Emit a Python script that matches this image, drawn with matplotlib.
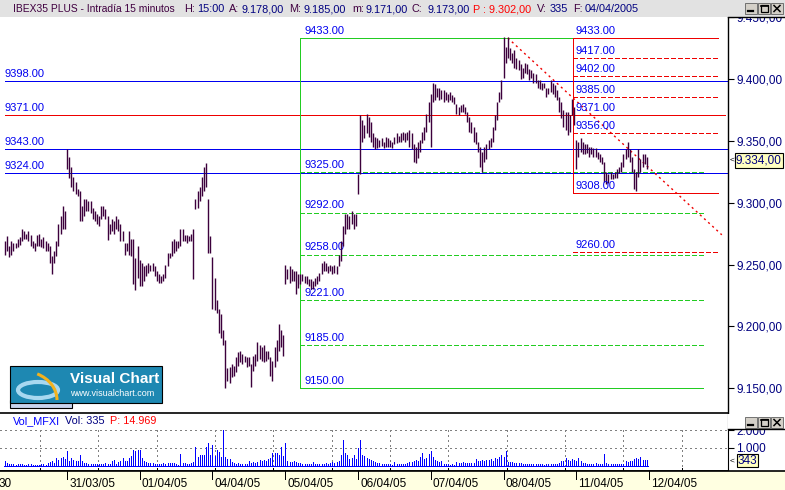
import matplotlib
matplotlib.use('Agg')
import matplotlib.pyplot as plt
import matplotlib.patches as mpatches
from matplotlib.lines import Line2D
from matplotlib.ticker import FuncFormatter
import numpy as np

plt.rcParams['font.family'] = ['Liberation Sans', 'DejaVu Sans']
plt.rcParams['lines.scale_dashes'] = False

W, H = 785, 490

# 15 minute bars, high / low per day (34 bars a day, first day partial)
d30_h = [9269, 9273, 9265, 9269, 9267, 9267, 9271, 9272, 9279, 9277, 9275, 9277, 9274, 9269, 9267,
         9274, 9275, 9271, 9272, 9269, 9267, 9265, 9257, 9261, 9269, 9283, 9289, 9297, 9293]
d30_l = [9258, 9261, 9256, 9258, 9261, 9263, 9264, 9266, 9269, 9271, 9271, 9269, 9265, 9263, 9261,
         9265, 9265, 9264, 9263, 9261, 9261, 9251, 9242, 9251, 9257, 9265, 9275, 9279, 9279]
d31_h = [9343, 9337, 9329, 9321, 9317, 9311, 9309, 9297, 9303, 9303, 9301, 9301, 9296, 9293, 9291, 9289, 9297,
         9297, 9295, 9289, 9283, 9287, 9285, 9289, 9287, 9283, 9277, 9267, 9267, 9277, 9271, 9271, 9255, 9265]
d31_l = [9327, 9320, 9313, 9309, 9307, 9305, 9285, 9285, 9289, 9293, 9293, 9292, 9287, 9285, 9283, 9281, 9287,
         9289, 9287, 9270, 9275, 9277, 9275, 9279, 9277, 9269, 9269, 9258, 9261, 9258, 9257, 9234, 9229, 9239]
d01_h = [9254, 9251, 9249, 9250, 9251, 9250, 9251, 9249, 9245, 9242, 9241, 9242, 9250, 9259, 9259, 9269, 9271,
         9269, 9269, 9279, 9279, 9274, 9274, 9273, 9275, 9279, 9303, 9309, 9313, 9321, 9329, 9332, 9303, 9273]
d01_l = [9233, 9233, 9237, 9241, 9243, 9245, 9245, 9241, 9237, 9235, 9235, 9237, 9239, 9249, 9255, 9257, 9259,
         9261, 9263, 9265, 9269, 9269, 9267, 9269, 9269, 9238, 9295, 9296, 9301, 9305, 9309, 9313, 9259, 9259]
d04_h = [9256, 9239, 9221, 9214, 9210, 9197, 9189, 9166, 9167, 9170, 9168, 9175, 9179, 9180, 9178, 9176, 9175,
         9175, 9170, 9176, 9178, 9187, 9185, 9183, 9185, 9180, 9180, 9175, 9172, 9183, 9189, 9202, 9197, 9193]
d04_l = [9214, 9213, 9211, 9195, 9191, 9185, 9150, 9156, 9154, 9159, 9160, 9163, 9168, 9171, 9170, 9171, 9167,
         9168, 9151, 9164, 9168, 9172, 9174, 9172, 9171, 9172, 9174, 9160, 9156, 9167, 9172, 9180, 9183, 9176]
d05_h = [9250, 9246, 9249, 9246, 9245, 9245, 9242, 9242, 9242, 9241, 9241, 9238, 9238, 9237, 9239, 9241, 9243,
         9251, 9253, 9251, 9249, 9250, 9249, 9250, 9249, 9258, 9269, 9281, 9291, 9291, 9289, 9293, 9291, 9291]
d05_l = [9234, 9238, 9235, 9237, 9237, 9226, 9231, 9234, 9237, 9235, 9234, 9233, 9230, 9230, 9233, 9234, 9237,
         9242, 9245, 9245, 9243, 9245, 9242, 9243, 9242, 9249, 9253, 9265, 9275, 9279, 9279, 9283, 9279, 9281]
d06_h = [9323, 9371, 9367, 9363, 9372, 9369, 9365, 9356, 9353, 9352, 9351, 9352, 9349, 9353, 9352, 9351, 9349,
         9353, 9356, 9354, 9356, 9357, 9356, 9357, 9359, 9356, 9347, 9345, 9349, 9351, 9357, 9361, 9372, 9381]
d06_l = [9307, 9323, 9349, 9352, 9356, 9353, 9349, 9345, 9343, 9344, 9345, 9346, 9344, 9345, 9345, 9345, 9344,
         9347, 9348, 9349, 9349, 9351, 9349, 9351, 9345, 9343, 9333, 9332, 9336, 9341, 9348, 9351, 9357, 9365]
d07_h = [9388, 9397, 9396, 9393, 9393, 9391, 9391, 9389, 9388, 9389, 9387, 9385, 9380, 9377, 9379, 9380, 9377,
         9373, 9369, 9365, 9361, 9357, 9349, 9345, 9341, 9345, 9347, 9351, 9352, 9361, 9371, 9381, 9389, 9399]
d07_l = [9345, 9381, 9383, 9385, 9383, 9384, 9381, 9383, 9381, 9383, 9381, 9380, 9372, 9371, 9373, 9373, 9372,
         9365, 9357, 9356, 9349, 9347, 9341, 9329, 9325, 9333, 9335, 9343, 9345, 9349, 9359, 9367, 9381, 9384]
d08_h = [9434, 9426, 9434, 9425, 9421, 9423, 9417, 9415, 9412, 9409, 9413, 9412, 9408, 9407, 9405, 9404, 9399,
         9399, 9397, 9397, 9393, 9393, 9399, 9397, 9395, 9391, 9385, 9381, 9375, 9373, 9373, 9371, 9384, 9377]
d08_l = [9401, 9413, 9417, 9415, 9413, 9409, 9408, 9407, 9400, 9401, 9405, 9404, 9399, 9401, 9397, 9397, 9393,
         9392, 9391, 9393, 9385, 9388, 9389, 9388, 9385, 9383, 9373, 9368, 9361, 9359, 9355, 9357, 9371, 9363]
d11_h = [9351, 9349, 9352, 9349, 9347, 9347, 9345, 9345, 9344, 9344, 9341, 9339, 9337, 9333, 9325, 9323, 9325,
         9323, 9325, 9327, 9329, 9333, 9339, 9343, 9349, 9343, 9337, 9327, 9325, 9343, 9335, 9339, 9339, 9337]
d11_l = [9327, 9337, 9341, 9339, 9339, 9340, 9337, 9339, 9337, 9337, 9335, 9333, 9331, 9317, 9315, 9316, 9319,
         9319, 9320, 9320, 9324, 9325, 9329, 9335, 9337, 9333, 9325, 9311, 9309, 9321, 9325, 9329, 9331, 9327]

# volume per bar
v30 = [300, 150, 120, 100, 120, 80, 90, 120, 100, 80, 70, 90, 110, 80, 60, 60, 80, 110, 90, 70,
       180, 220, 300, 180, 420, 350, 460, 520, 380]
v31 = [840, 300, 420, 320, 250, 280, 590, 250, 180, 140, 120, 110, 100, 90, 110, 100, 130, 110, 140, 100,
       130, 260, 340, 120, 200, 300, 450, 300, 250, 420, 550, 880, 840, 880]
v01 = [880, 420, 250, 200, 170, 150, 140, 120, 100, 130, 100, 150, 120, 160, 180, 160, 150, 100, 80, 650,
       150, 140, 120, 110, 140, 200, 1080, 500, 600, 620, 600, 1050, 1270, 600]
v04 = [1180, 530, 880, 800, 500, 2020, 500, 400, 380, 200, 160, 130, 180, 130, 100, 90, 110, 300, 160, 200,
       180, 220, 340, 260, 335, 280, 400, 450, 720, 720, 700, 600, 1080, 560]
v05 = [1270, 300, 230, 200, 280, 220, 150, 180, 120, 110, 90, 100, 110, 200, 100, 90, 120, 100, 130, 160,
       110, 140, 200, 160, 230, 260, 590, 1470, 700, 600, 380, 450, 600, 380]
v06 = [980, 1470, 600, 550, 450, 400, 350, 250, 200, 180, 150, 120, 130, 100, 120, 90, 80, 200, 100, 90,
       100, 110, 90, 150, 200, 220, 300, 350, 300, 500, 700, 400, 450, 650]
v07 = [820, 500, 350, 300, 200, 250, 120, 100, 100, 80, 90, 80, 200, 150, 160, 240, 160, 150, 140, 180,
       150, 400, 280, 300, 350, 300, 320, 310, 380, 300, 450, 400, 480, 600]
v08 = [500, 850, 240, 240, 200, 160, 180, 170, 150, 130, 120, 110, 100, 120, 100, 90, 100, 120, 100, 80,
       90, 100, 90, 110, 120, 130, 150, 300, 250, 450, 350, 300, 380, 320]
v11 = [300, 450, 280, 150, 140, 120, 110, 130, 120, 140, 130, 110, 120, 650, 150, 100, 110, 90, 100, 120,
       100, 90, 110, 250, 200, 300, 280, 400, 450, 380, 480, 350, 360, 343]

day_labels = ['31/03/05', '01/04/05', '04/04/05', '05/04/05', '06/04/05',
              '07/04/05', '08/04/05', '11/04/05', '12/04/05']

# support / resistance lines
blue_levels = [9398, 9343, 9324]
red_level = 9371
# fibonacci (green) 9150 -> 9433 and (red) 9433 -> 9308
green_fib = [9433, 9325, 9292, 9258, 9221, 9185, 9150]
green_span = [138, 326]
red_fib = [9433, 9417, 9402, 9385, 9371, 9356, 9308, 9260]
red_solid = [9433, 9371, 9308]
red_span = [265.5, 333]
trend_idx = [235, 335]
trend_price = [9433, 9274]

last_price = 9334
last_vol = 343

high = np.array(d30_h + d31_h + d01_h + d04_h + d05_h + d06_h + d07_h + d08_h + d11_h)
low = np.array(d30_l + d31_l + d01_l + d04_l + d05_l + d06_l + d07_l + d08_l + d11_l)
vol = np.array(v30 + v31 + v01 + v04 + v05 + v06 + v07 + v08 + v11)
idx = np.arange(len(high))
day_start = [len(d30_h) + 34 * k for k in range(len(day_labels))]

X0, DX = 4.9, 2.14          # pixel of first bar, pixels per bar
def px2i(px):
    return (px - X0) / DX

def rect(x0, y0, x1, y1):
    return [x0 / W, 1 - y1 / H, (x1 - x0) / W, (y1 - y0) / H]

def spanish(v, _=None, dec=2):
    s = f"{v:,.{dec}f}"
    return s.replace(',', 'X').replace('.', ',').replace('X', '.')

BAR = '#3C003C'
BLUE = '#0000F0'
GREEN = '#22CC22'
RED = '#EE0000'
NAVY = '#000080'
LAB = '#0000F0'
AA = False
LW = 0.72   # one pixel

fig = plt.figure(figsize=(W / 100, H / 100), dpi=100)
fig.patch.set_facecolor('white')

# ---- price panel
ax = fig.add_axes(rect(0, 17, 728, 413))
ax.set_xlim(px2i(0), px2i(728))
ax.set_ylim(9130, 9448)
for s in ['top', 'left']:
    ax.spines[s].set_visible(False)
ax.spines['right'].set_linewidth(1)
ax.spines['bottom'].set_linewidth(1.2)
ax.set_xticks([])
ax.yaxis.tick_right()
ax.set_yticks(np.arange(9150, 9451, 50))
ax.yaxis.set_major_formatter(FuncFormatter(spanish))
ax.tick_params(axis='y', direction='out', length=4, width=0.8, pad=2,
               labelsize=8.5, labelcolor=NAVY)

xr = ax.get_xlim()[1]
for lv in blue_levels:
    ax.hlines(lv, 0, xr, color=BLUE, lw=LW, zorder=2, antialiased=AA)
ax.hlines(red_level, 0, px2i(725), color=RED, lw=LW, zorder=2, antialiased=AA)
for lv in [9398, 9371, 9343, 9324]:
    ax.annotate(f"{lv:.2f}", (0, lv), xytext=(0, 3), textcoords='offset points',
                color=LAB, fontsize=8, va='baseline')

# green fibonacci
g0, g1 = green_span
ax.vlines(g0, green_fib[-1], green_fib[0], color=GREEN, lw=LW, zorder=2, antialiased=AA)
for lv in green_fib:
    solid = lv in (green_fib[0], green_fib[-1])
    ax.hlines(lv, g0, g1, color=GREEN, lw=LW,
              linestyle='-' if solid else (0, (3, 2)), zorder=2, antialiased=AA)
    ax.annotate(f"{lv:.2f}", (g0, lv), xytext=(3, 3), textcoords='offset points',
                color=LAB, fontsize=8, va='baseline')

# red fibonacci
r0, r1 = red_span
ax.vlines(r0, red_fib[6], red_fib[0], color=RED, lw=LW, zorder=3, antialiased=AA)
for lv in red_fib:
    if lv == red_level:
        pass
    elif lv in red_solid:
        ax.hlines(lv, r0, r1, color=RED, lw=LW, zorder=3, antialiased=AA)
    else:
        ax.hlines(lv, r0, r1, color=RED, lw=LW, linestyle=(0, (3, 2)), zorder=3, antialiased=AA)
    ax.annotate(f"{lv:.2f}", (r0, lv), xytext=(2, 3), textcoords='offset points',
                color=LAB, fontsize=8, va='baseline', zorder=6)

ax.plot(trend_idx, trend_price, color=RED, lw=1.0, linestyle=(0, (1.5, 2.5)), zorder=3)

# bars
ax.vlines(idx, low, high, color=BAR, lw=1.0, zorder=4)

# last price box
ytr = ax.get_yaxis_transform()
ax.text(1 + 2 / 728, last_price, '<', transform=ytr, fontsize=6, va='center',
        ha='left', color='black', clip_on=False)
ax.text(1 + 8 / 728, last_price, spanish(last_price), transform=ytr, fontsize=8.5,
        va='center', ha='left', color=NAVY, clip_on=False,
        bbox=dict(boxstyle='square,pad=0.12', fc='#FFFFC0', ec='black', lw=0.8))

# ---- volume panel
av = fig.add_axes(rect(0, 414, 728, 471))
av.set_xlim(px2i(0), px2i(728))
av.set_ylim(-278, 2889)
for s in ['top', 'left']:
    av.spines[s].set_visible(False)
av.spines['bottom'].set_linewidth(1.2)
av.set_xticks([])
av.yaxis.tick_right()
av.set_yticks([1000, 2000])
av.yaxis.set_major_formatter(FuncFormatter(lambda v, _: spanish(v, dec=0)))
av.tick_params(axis='y', direction='out', length=4, width=0.8, pad=2,
               labelsize=8.5, labelcolor=NAVY)
for gy in [1000, 2000]:
    av.axhline(gy, color='#808080', lw=LW, linestyle=(0, (1, 2.5)), zorder=1, antialiased=AA)
for k in range(12):
    gx = px2i(40 + 58.33 * k)
    av.vlines(gx, -278, 2000, color='#808080', lw=LW, linestyle=(0, (1, 2.5)), zorder=1,
              antialiased=AA)
    av.vlines(gx, -278, -120, color='black', lw=LW, zorder=2, antialiased=AA)
av.vlines(idx, 0, vol, color='#0000FF', lw=LW, zorder=3, antialiased=AA)
av.hlines(0, idx[0] - 0.5, idx[-1] + 0.5, color='#0000FF', lw=LW, zorder=3, antialiased=AA)
vtr = av.get_yaxis_transform()
av.text(1 + 2 / 728, last_vol - 60, '<', transform=vtr, fontsize=6, va='center',
        ha='left', color='black', clip_on=False)
av.text(1 + 10 / 728, last_vol - 60, str(last_vol), transform=vtr, fontsize=8.5,
        va='center', ha='left', color=NAVY, clip_on=False,
        bbox=dict(boxstyle='square,pad=0.05', fc='#FFFFC0', ec='black', lw=0.8))

fig.text(13 / W, 1 - 421 / H, 'Vol_MFXI', color='#0000FF', fontsize=7.8, va='center')
fig.text(65 / W, 1 - 421 / H, 'Vol: 335', color=NAVY, fontsize=7.8, va='center')
fig.text(110 / W, 1 - 421 / H, 'P: 14.969', color='#FF0000', fontsize=7.8, va='center')

# ---- date strip
ad = fig.add_axes(rect(0, 471, 785, 490))
ad.set_xlim(px2i(0), px2i(785))
ad.set_ylim(0, 1)
ad.axis('off')
ad.add_patch(mpatches.Rectangle((0, 0), 1, 1, transform=ad.transAxes, fc='#FFFFE1', ec='none'))
for d, lab in zip(day_start, day_labels):
    ad.vlines(d, 0.6, 1, color='black', lw=LW, antialiased=AA)
    ad.text(d + 1, 0.3, lab, fontsize=8.5, va='center', ha='left', color='black')
ad.text(px2i(-1), 0.3, '30', fontsize=8.5, va='center', ha='left', color='black')
fig.add_artist(Line2D([0, 1], [1 - 471 / H] * 2, transform=fig.transFigure, color='black', lw=1.2))

# ---- frame pieces, title bar, buttons
def fline(xs, ys, **kw):
    fig.add_artist(Line2D([x / W for x in xs], [1 - y / H for y in ys],
                          transform=fig.transFigure, zorder=12, **kw))

fig.add_artist(mpatches.Rectangle((0, 1 - 17 / H), 1, 17 / H, transform=fig.transFigure,
                                  fc='#E2E2E2', ec='none', zorder=10))
fig.add_artist(mpatches.Rectangle((728 / W, 1 - 429 / H), 57 / W, 15 / H, transform=fig.transFigure,
                                  fc='white', ec='none', zorder=10))
fline([728, 785], [17, 17], color='black', lw=1)
fline([728, 785], [429, 429], color='black', lw=1)

LABC = '#400040'
title_parts = [("IBEX35 PLUS - Intradía 15 minutos", 13, LABC, 7.4), ("H:", 184, LABC, 7.8),
               ("15:00", 197, NAVY, 7.8), ("A:", 229, LABC, 7.8), ("9.178,00", 242, NAVY, 7.8),
               ("M:", 289, LABC, 7.8), ("9.185,00", 303, NAVY, 7.8), ("m:", 352, LABC, 7.8),
               ("9.171,00", 366, NAVY, 7.8), ("C:", 412, LABC, 7.8), ("9.173,00", 427, NAVY, 7.8),
               ("P : 9.302,00", 473, '#FF0000', 7.8), ("V:", 537, LABC, 7.8), ("335", 550, NAVY, 7.8),
               ("F:", 573, LABC, 7.8), ("04/04/2005", 585, NAVY, 7.8)]
for txt, px, col, fs in title_parts:
    fig.text(px / W, 1 - 9 / H, txt, color=col, fontsize=fs, va='center', zorder=11)

def buttons(py):
    for k, bx in enumerate([745, 758, 771]):
        fig.add_artist(mpatches.Rectangle((bx / W, 1 - (py + 11) / H), 12 / W, 11 / H,
                                          transform=fig.transFigure, fc='#D4D0C8',
                                          ec='#606060', lw=0.6, zorder=11))
        if k == 0:
            fline([bx + 3, bx + 8], [py + 8, py + 8], color='black', lw=1.6)
        elif k == 1:
            fig.add_artist(mpatches.Rectangle(((bx + 2.5) / W, 1 - (py + 9) / H), 7 / W, 7 / H,
                                              transform=fig.transFigure, fc='none',
                                              ec='black', lw=0.9, zorder=12))
            fline([bx + 2.5, bx + 9.5], [py + 2.8, py + 2.8], color='black', lw=1.2)
        else:
            fline([bx + 3, bx + 9], [py + 2.5, py + 8.5], color='black', lw=1.1)
            fline([bx + 3, bx + 9], [py + 8.5, py + 2.5], color='black', lw=1.1)

buttons(3)
buttons(417)

# ---- Visual Chart logo
fig.add_artist(mpatches.Rectangle((10 / W, 1 - 408 / H), 62 / W, 8 / H, transform=fig.transFigure,
                                  fc='#C8D4EE', ec='black', lw=0.8, zorder=8))
fig.add_artist(mpatches.Rectangle((10 / W, 1 - 403 / H), 152 / W, 37 / H, transform=fig.transFigure,
                                  fc='#1E88B2', ec='black', lw=0.8, zorder=8))
fig.add_artist(mpatches.Ellipse((38 / W, 1 - 390 / H), 40 / W, 16 / H, transform=fig.transFigure,
                                fc='none', ec='#A8D8F0', lw=3, zorder=9))
fig.add_artist(mpatches.Arc((22 / W, 1 - 400 / H), 70 / W, 58 / H, theta1=0, theta2=70,
                            transform=fig.transFigure, ec='#F2B21E', lw=2.2, zorder=9))
fig.text(70 / W, 1 - 379 / H, 'Visual Chart', color='white', fontsize=11, fontweight='bold',
         va='center', zorder=9)
fig.text(70 / W, 1 - 393 / H, 'www.visualchart.com', color='white', fontsize=6.5,
         va='center', zorder=9)

fig.savefig('out.png', dpi=100)
